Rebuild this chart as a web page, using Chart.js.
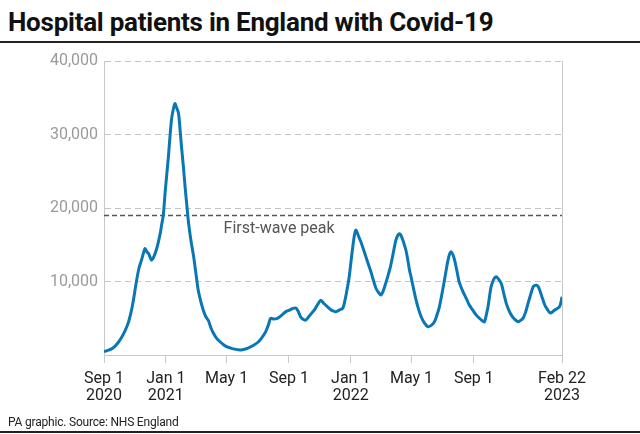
<!DOCTYPE html>
<html>
<head>
<meta charset="utf-8">
<script src="https://cdn.jsdelivr.net/npm/chart.js@4.4.0/dist/chart.umd.min.js"></script>
<style>
  html, body { margin: 0; padding: 0; background: #fff; }
  body { width: 640px; height: 434px; position: relative; overflow: hidden; font-family: Roboto, "Liberation Sans", sans-serif; }
  #title { position: absolute; left: 8px; top: 7px; font-size: 26px; font-weight: 700; color: #111; letter-spacing: -0.25px; white-space: nowrap; }
  .rule { position: absolute; left: 0; width: 640px; height: 2px; background: #222; }
  #footer { position: absolute; left: 8px; top: 415px; font-size: 12px; color: #222; letter-spacing: -0.2px; }
  #wrap { position: absolute; left: 0; top: 0; width: 640px; height: 434px; }
</style>
</head>
<body>
<div id="title">Hospital patients in England with Covid-19</div>
<div class="rule" style="top:41px"></div>
<div id="wrap"><canvas id="myChart" width="640" height="434"></canvas></div>
<div id="footer">PA graphic. Source: NHS England</div>
<div class="rule" style="top:431px"></div>

<script>
// days since 1 Sep 2020
const days = [
  0, 7, 14, 21, 28, 34, 41, 48, 54, 58, 64, 69, 74, 78, 81, 85, 88, 91, 94, 98,
  103, 107, 111, 114, 117, 121, 127, 133, 137, 140, 143, 147, 150, 153, 157, 160, 164, 167, 172, 177,
  182, 186, 191, 196, 201, 206, 211, 216, 222, 229, 236, 243, 250, 258, 266, 273, 281, 289, 297, 305,
  312, 319, 325, 329, 335, 341, 345, 352, 359, 366, 372, 378, 383, 388, 393, 398, 404, 410, 415, 421,
  428, 434, 441, 447, 452, 458, 464, 471, 475, 480, 484, 488, 491, 494, 497, 500, 504, 507, 512, 517,
  522, 527, 532, 537, 542, 547, 551, 556, 561, 566, 571, 576, 580, 583, 586, 590, 593, 596, 600, 603,
  606, 611, 616, 621, 626, 632, 639, 645, 652, 657, 662, 667, 672, 676, 679, 682, 685, 689, 692, 697,
  701, 708, 715, 721, 728, 734, 741, 746, 751, 755, 758, 761, 764, 768, 771, 774, 778, 784, 789, 794,
  799, 804, 810, 817, 822, 827, 832, 837, 842, 847, 850, 853, 857, 860, 865, 870, 875, 880, 884, 889,
  894, 899, 902, 904
];
// patients in hospital
const patients = [
  450, 620, 800, 1150, 1700, 2300, 3200, 4400, 6000, 7450, 10000, 11800, 12900, 13900, 14500, 14000, 13800, 13300, 12900, 13300,
  14250, 15300, 16550, 17800, 19000, 22400, 26900, 31900, 33500, 34200, 33700, 32900, 30800, 28300, 25400, 22900, 20000, 17900, 15400, 13350,
  10800, 8800, 7300, 6100, 5200, 4700, 3700, 2950, 2300, 1800, 1400, 1100, 950, 800, 700, 720, 850, 1100, 1400, 1800,
  2400, 3150, 4200, 5000, 4900, 4950, 5100, 5500, 5900, 6100, 6300, 6400, 6000, 5200, 4850, 4750, 5200, 5700, 6100, 6800,
  7450, 7000, 6560, 6200, 6000, 5900, 6100, 6350, 7250, 9000, 10650, 13000, 14700, 16200, 17000, 16600, 15900, 15400, 14400, 13350,
  12300, 11300, 10100, 9050, 8500, 8150, 8700, 9750, 10900, 12200, 13900, 15600, 16300, 16500, 16300, 15600, 14950, 14250, 12800, 11550,
  10650, 9000, 7470, 6200, 5200, 4400, 3850, 4000, 4500, 5400, 6560, 8300, 10200, 11800, 12900, 13700, 14050, 13600, 12900, 11300,
  9950, 8700, 7700, 6800, 6100, 5500, 5000, 4700, 4500, 5600, 6560, 8000, 9270, 10100, 10500, 10650, 10400, 9750, 8400, 7020,
  6100, 5430, 4900, 4520, 4700, 4980, 5800, 7020, 8200, 9270, 9450, 9500, 9300, 8830, 7800, 6800, 6200, 5750, 5800, 6100,
  6300, 6560, 7200, 7920
];
const firstWavePeak = 18974;
const tickDays = [0, 122, 242, 365, 487, 607, 730, 904];
const tickLabels = [
  ['Sep 1', '2020'], ['Jan 1', '2021'], ['May 1'], ['Sep 1'],
  ['Jan 1', '2022'], ['May 1'], ['Sep 1'], ['Feb 22', '2023']
];
const yTicks = [0, 10000, 20000, 30000, 40000];

document.addEventListener('DOMContentLoaded', function () {
    // dashed line for the first wave peak + label
    const peakLine = {
        id: 'peakLine',
        beforeDatasetsDraw(chart) {
            const { ctx, chartArea, scales } = chart;
            const y = scales.y.getPixelForValue(firstWavePeak);
            ctx.save();
            ctx.strokeStyle = '#555';
            ctx.lineWidth = 1.5;
            ctx.setLineDash([5, 3]);
            ctx.beginPath();
            ctx.moveTo(chartArea.left, y);
            ctx.lineTo(chartArea.right, y);
            ctx.stroke();
            ctx.setLineDash([]);
            ctx.fillStyle = '#555';
            ctx.font = '16px Roboto, "Liberation Sans", sans-serif';
            ctx.textBaseline = 'middle';
            ctx.fillText('First-wave peak', scales.x.getPixelForValue(236), y + 13);
            ctx.restore();
        }
    };

    const ctx = document.getElementById('myChart').getContext('2d');
    const myChart = new Chart(ctx, {
        type: 'line',
        data: {
            datasets: [{
                data: days.map((d, i) => ({ x: d, y: patients[i] })),
                borderColor: '#0a77b5',
                borderWidth: 3,
                pointRadius: 0,
                tension: 0.3,
                fill: false
            }]
        },
        options: {
            responsive: false,
            animation: false,
            layout: { padding: { left: 0, top: 61, right: 78, bottom: 0 } },
            scales: {
                x: {
                    type: 'linear',
                    min: 0,
                    max: 904,
                    afterBuildTicks: scale => { scale.ticks = tickDays.map(v => ({ value: v })); },
                    afterFit: scale => { scale.height = 79; },
                    border: { display: true, color: '#c8c8c8', width: 1 },
                    grid: {
                        color: c => (c.tick && c.tick.value === 904) ? '#c8c8c8' : 'rgba(0,0,0,0)',
                        tickColor: '#c8c8c8',
                        tickLength: 8
                    },
                    ticks: {
                        autoSkip: false,
                        maxRotation: 0,
                        padding: 8,
                        color: '#222',
                        font: { family: 'Roboto, "Liberation Sans", sans-serif', size: 16, lineHeight: 1.05 },
                        callback: (v, i) => tickLabels[i]
                    }
                },
                y: {
                    min: 0,
                    max: 40000,
                    afterBuildTicks: scale => { scale.ticks = yTicks.map(v => ({ value: v })); },
                    afterFit: scale => { scale.width = 104; },
                    // border.dash sets the dash of the gridlines in v4
                    border: { display: true, color: '#c8c8c8', width: 1, dash: [6, 4] },
                    grid: {
                        color: c => (c.tick && c.tick.value === 0) ? 'rgba(0,0,0,0)' : '#c4c4c4',
                        drawTicks: false
                    },
                    ticks: {
                        padding: 6,
                        color: '#9a9a9a',
                        font: { family: 'Roboto, "Liberation Sans", sans-serif', size: 16 },
                        callback: v => v === 0 ? '' : v.toLocaleString('en-GB')
                    }
                }
            },
            plugins: {
                legend: { display: false },
                tooltip: { enabled: false }
            }
        },
        plugins: [peakLine]
    });
});
</script>
</body>
</html>
